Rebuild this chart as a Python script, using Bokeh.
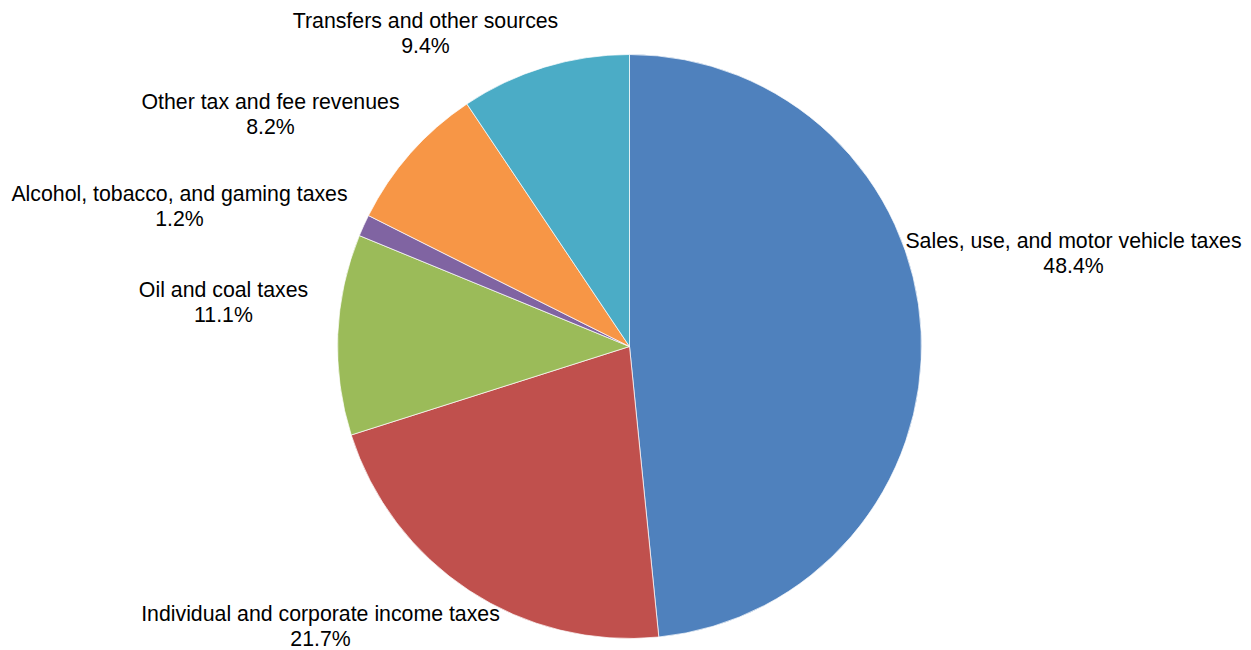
import math
from bokeh.plotting import figure
from bokeh.models import Range1d, ColumnDataSource
from bokeh.embed import file_html
from bokeh.resources import INLINE
from bokeh.core.properties import value

# ---- data ----
categories = [
    "Sales, use, and motor vehicle taxes",
    "Individual and corporate income taxes",
    "Oil and coal taxes",
    "Alcohol, tobacco, and gaming taxes",
    "Other tax and fee revenues",
    "Transfers and other sources",
]
shares = [48.4, 21.7, 11.1, 1.2, 8.2, 9.4]
colors = ["#4F81BD", "#C0504D", "#9BBB59", "#8064A2", "#F79646", "#4BACC6"]

# ---- layout (picture pixel units) ----
W, H = 1251, 650
cx, cy_pic, R = 629, 346, 292
# label centres (picture px): x, first-line y
label_pos = [
    (1073, 240),
    (320, 613),
    (223, 289),
    (179, 193),
    (270, 101),
    (425, 20),
]
LINE_GAP = 25

def ty(pic_y):
    return H - pic_y

total = sum(shares)
starts, ends = [], []
cum = 0.0
for s in shares:
    starts.append(math.pi / 2 - cum / total * 2 * math.pi)
    cum += s
    ends.append(math.pi / 2 - cum / total * 2 * math.pi)

src = ColumnDataSource(dict(start=starts, end=ends, color=colors))

p = figure(width=W, height=H, output_backend="svg", toolbar_location=None,
           x_range=Range1d(0, W), y_range=Range1d(0, H),
           min_border=0)
p.axis.visible = False
p.grid.visible = False
p.outline_line_color = None
p.background_fill_color = "white"

p.wedge(x=cx, y=ty(cy_pic), radius=R, start_angle="start", end_angle="end",
        direction="clock", fill_color="color", line_color="white",
        line_width=1, line_alpha=0.7, source=src)

lab = ColumnDataSource(dict(
    x=[lp[0] for lp in label_pos],
    y1=[ty(lp[1]) for lp in label_pos],
    y2=[ty(lp[1] + LINE_GAP) for lp in label_pos],
    name=categories,
    pct=[f"{s:.1f}%" for s in shares],
))
for col, ycol in (("name", "y1"), ("pct", "y2")):
    p.text(x="x", y=ycol, text=col, source=lab, text_align="center",
           text_baseline="middle", text_font=value("Liberation Sans"),
           text_font_size="21.3px", text_color="black")

open("out.html", "w").write(file_html(p, INLINE))
